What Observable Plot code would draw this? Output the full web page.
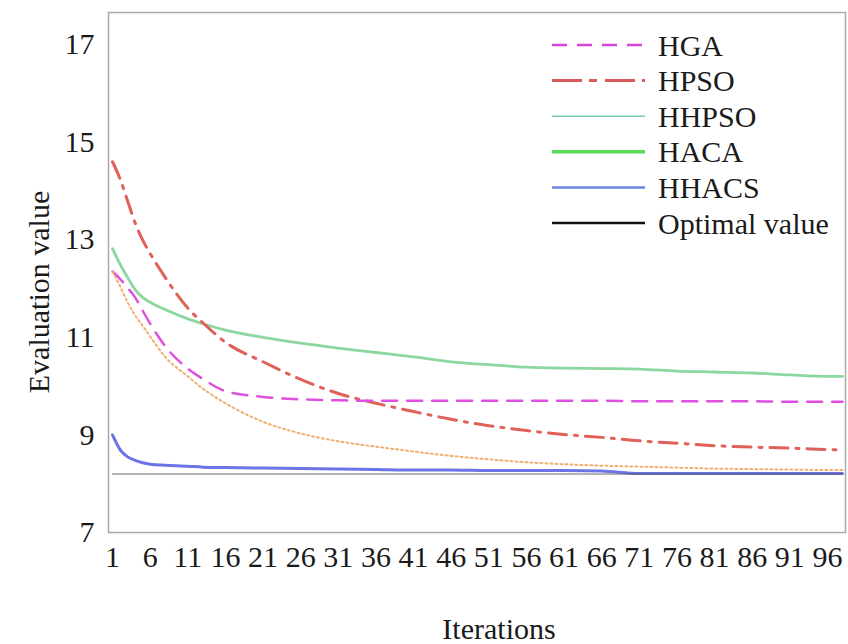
<!DOCTYPE html>
<html><head><meta charset="utf-8">
<script src="https://cdn.jsdelivr.net/npm/d3@7"></script>
<script src="https://cdn.jsdelivr.net/npm/@observablehq/plot@0.6"></script>
<style>body{margin:0;background:#fff}#chart{width:848px;height:644px}</style>
</head><body><div id="chart"></div>
<script>
const iterations = [1,2,3,4,5,6,8,11,13,16,21,26,31,36,41,46,51,56,61,66,71,76,81,86,91,96,98];
const hga   = [12.35,12.2,12.02,11.82,11.55,11.28,10.82,10.36,10.15,9.9,9.78,9.73,9.71,9.7,9.7,9.7,9.7,9.7,9.7,9.7,9.69,9.69,9.69,9.69,9.68,9.68,9.68];
const hpso  = [14.6,14.25,13.8,13.35,13.0,12.72,12.23,11.6,11.3,10.9,10.5,10.14,9.85,9.65,9.48,9.32,9.19,9.09,9.01,8.95,8.88,8.83,8.78,8.75,8.73,8.7,8.69];
const hhpso = [12.35,12.05,11.72,11.45,11.24,11.02,10.6,10.2,9.95,9.65,9.27,9.03,8.87,8.76,8.66,8.57,8.5,8.44,8.4,8.37,8.35,8.33,8.31,8.3,8.29,8.28,8.28];
const haca  = [12.82,12.5,12.23,11.98,11.82,11.72,11.57,11.38,11.28,11.15,11.0,10.88,10.78,10.69,10.6,10.5,10.44,10.39,10.37,10.36,10.35,10.31,10.29,10.27,10.23,10.2,10.2];
const hhacs = [9.0,8.7,8.55,8.48,8.43,8.4,8.38,8.36,8.34,8.33,8.32,8.31,8.3,8.29,8.28,8.28,8.27,8.27,8.27,8.26,8.21,8.21,8.21,8.21,8.21,8.21,8.21];
const optimalValue = 8.2;
const xTicks = [1,6,11,16,21,26,31,36,41,46,51,56,61,66,71,76,81,86,91,96];
const yTicks = [7,9,11,13,15,17];
const seriesNames = ["HGA","HPSO","HHPSO","HACA","HHACS","Optimal value"];

const rows = (vals) => iterations.map((it, i) => ({it, v: vals[i]}));
const FONT = "\"Liberation Serif\", \"Times New Roman\", Times, \"Nimbus Roman\", Tinos, \"DejaVu Serif\", \"Noto Serif\", serif";
const FS = 30;

const chart = Plot.plot({
  width: 848, height: 644,
  marginLeft: 108, marginRight: 3, marginTop: 12, marginBottom: 112,
  insetLeft: 4, insetRight: 3,
  style: {fontFamily: FONT, fontSize: FS + "px", color: "#1a1a1a", background: "#fff"},
  x: {domain: [1, 98]},
  y: {domain: [7, 17.66]},
  marks: [
    Plot.frame({stroke: "#aaa", strokeWidth: 1.5}),
    Plot.axisX(xTicks, {tickSize: 0, tickPadding: 13, label: null, fontSize: FS}),
    Plot.axisY(yTicks, {tickSize: 0, tickPadding: 14, label: null, fontSize: FS}),
    Plot.line(rows(haca), {x: "it", y: "v", stroke: "#8cd6a0", strokeWidth: 2.8, curve: "monotone-x"}),
    Plot.line(rows(hpso), {x: "it", y: "v", stroke: "#e0605a", strokeWidth: 3, strokeDasharray: "18,8,3,8", curve: "monotone-x"}),
    Plot.line(rows(hga), {x: "it", y: "v", stroke: "#e050e0", strokeWidth: 2.5, strokeDasharray: "15,10", curve: "monotone-x"}),
    Plot.line(rows(hhacs), {x: "it", y: "v", stroke: "#6a74e6", strokeWidth: 3, curve: "monotone-x"}),
    Plot.line(rows(hhpso), {x: "it", y: "v", stroke: "#f0b070", strokeWidth: 2, strokeDasharray: "2,3", curve: "monotone-x"}),
    Plot.ruleY([optimalValue], {x1: iterations[0], x2: iterations[iterations.length - 1], stroke: "#555", strokeOpacity: 0.6, strokeWidth: 1.5})
  ]
});
document.getElementById("chart").appendChild(chart);
chart.querySelectorAll("text").forEach(t => t.style.fontFamily = FONT);

const svg = d3.select(chart);
svg.append("text").attr("transform", "translate(38,292) rotate(-90)")
  .attr("text-anchor", "middle").attr("dominant-baseline", "central")
  .style("font-family", FONT).style("font-size", FS + "px").attr("fill", "#1a1a1a").text("Evaluation value");
svg.append("text").attr("x", 499).attr("y", 628)
  .attr("text-anchor", "middle").attr("dominant-baseline", "central")
  .style("font-family", FONT).style("font-size", FS + "px").attr("fill", "#1a1a1a").text("Iterations");

const legendStyles = [
  {color: "#d846d8", w: 2.5, dash: "15,10"},
  {color: "#d85a5a", w: 3, dash: "30,7,8,8"},
  {color: "#78cca8", w: 1.5, dash: null},
  {color: "#58dc58", w: 3.5, dash: null},
  {color: "#6a84e0", w: 2.5, dash: null},
  {color: "#111", w: 2.5, dash: null}
];
const lg = svg.append("g");
seriesNames.forEach((name, i) => {
  const y = 45 + i * 35.6;
  const s = legendStyles[i];
  lg.append("line").attr("x1", 552).attr("x2", 645).attr("y1", y).attr("y2", y)
    .attr("stroke", s.color).attr("stroke-width", s.w)
    .attr("stroke-dasharray", s.dash);
  lg.append("text").attr("x", 658).attr("y", y).attr("text-anchor", "start").attr("dominant-baseline", "central")
    .style("font-family", FONT).style("font-size", FS + "px").attr("fill", "#1a1a1a").text(name);
});
</script>
</body></html>
